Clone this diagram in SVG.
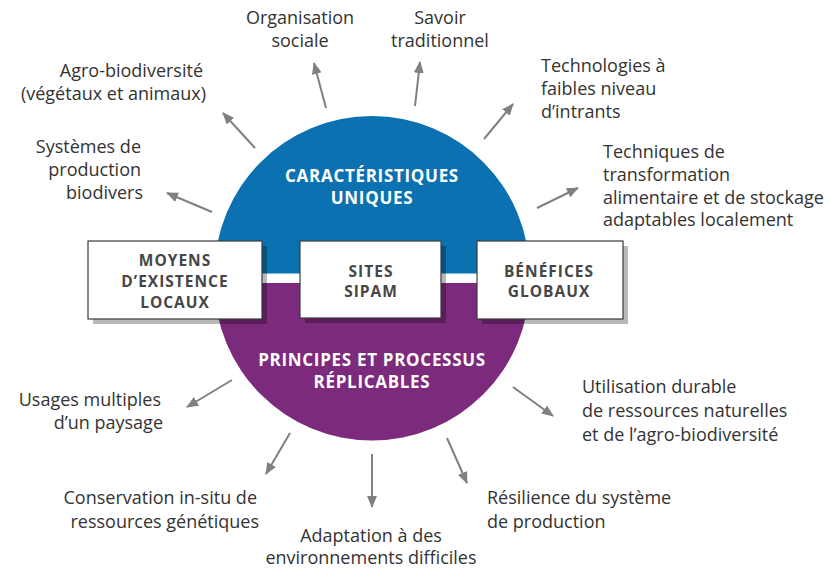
<svg xmlns="http://www.w3.org/2000/svg" width="830" height="570" viewBox="0 0 830 570">
  <defs>
    <marker id="arrowhead" viewBox="0 0 12 10" refX="11" refY="5" markerWidth="12" markerHeight="10" markerUnits="userSpaceOnUse" orient="auto">
      <path d="M0,0 L12,5 L0,10 Z" fill="#808083"/>
    </marker>
  </defs>
  <style>
    .lbl { font-family: "Open Sans", "Noto Sans", "Liberation Sans", sans-serif; font-size: 18px; fill: #333333; }
    .ttl { font-family: "Open Sans", "Noto Sans", "Liberation Sans", sans-serif; font-size: 17px; letter-spacing: 0.7px; font-weight: bold; fill: #ffffff; text-anchor: middle; }
    .boxtxt { font-family: "Open Sans", "Noto Sans", "Liberation Sans", sans-serif; font-size: 15.5px; letter-spacing: 1px; font-weight: bold; fill: #464646; text-anchor: middle; }
    .box { fill: #ffffff; stroke: #3a3a3a; stroke-width: 1.2; }
    .shadow { fill: #000000; fill-opacity: 0.28; }
    .arrow { stroke: #808083; stroke-width: 2; fill: none; marker-end: url(#arrowhead); }
    .r { text-anchor: end; }
    .m { text-anchor: middle; }
  </style>

  <!-- central disc split into two halves -->
  <g id="disc">
    <path d="M214.5,273.5 A157.5,157.5 0 0 1 529.5,273.5 Z" fill="#0b71b0"/>
    <path d="M214.5,283 A157.5,157.5 0 0 0 529.5,283 Z" fill="#7c2a7c"/>
  </g>

  <g id="title-unique">
    <text class="ttl" x="372" y="182">CARACTÉRISTIQUES</text>
    <text class="ttl" x="372" y="204">UNIQUES</text>
  </g>
  <g id="title-replicable">
    <text class="ttl" x="372" y="366">PRINCIPES ET PROCESSUS</text>
    <text class="ttl" x="372" y="388">RÉPLICABLES</text>
  </g>

  <!-- three boxes across the middle band -->
  <g id="box-moyens">
    <rect class="shadow" x="93" y="246" width="174" height="78"/>
    <rect class="box" x="88" y="241" width="174" height="78"/>
    <text class="boxtxt" x="175" y="266">MOYENS</text>
    <text class="boxtxt" x="175" y="287">D’EXISTENCE</text>
    <text class="boxtxt" x="175" y="308">LOCAUX</text>
  </g>
  <g id="box-sites">
    <rect class="shadow" x="305" y="246" width="141" height="77"/>
    <rect class="box" x="300" y="241" width="141" height="77"/>
    <text class="boxtxt" x="371" y="277">SITES</text>
    <text class="boxtxt" x="371" y="297">SIPAM</text>
  </g>
  <g id="box-benefices">
    <rect class="shadow" x="482" y="246" width="146" height="78"/>
    <rect class="box" x="477" y="241" width="146" height="78"/>
    <text class="boxtxt" x="549" y="277">BÉNÉFICES</text>
    <text class="boxtxt" x="549" y="297">GLOBAUX</text>
  </g>

  <!-- radiating connectors -->
  <g id="connectors">
    <line class="arrow" x1="255" y1="148" x2="223" y2="113"/>
    <line class="arrow" x1="326" y1="108" x2="314" y2="63"/>
    <line class="arrow" x1="415" y1="106" x2="420" y2="62"/>
    <line class="arrow" x1="484" y1="139" x2="513" y2="104"/>
    <line class="arrow" x1="537" y1="208" x2="578" y2="188"/>
    <line class="arrow" x1="212" y1="212" x2="167" y2="193"/>
    <line class="arrow" x1="232" y1="380" x2="187" y2="407"/>
    <line class="arrow" x1="290" y1="433" x2="266" y2="474"/>
    <line class="arrow" x1="372" y1="454" x2="372" y2="507"/>
    <line class="arrow" x1="447" y1="438" x2="467" y2="483"/>
    <line class="arrow" x1="513" y1="387" x2="553" y2="416"/>
  </g>

  <!-- outer labels -->
  <g id="lbl-organisation">
    <text class="lbl m" x="300" y="24">Organisation</text>
    <text class="lbl m" x="300" y="47">sociale</text>
  </g>
  <g id="lbl-savoir">
    <text class="lbl m" x="440" y="24">Savoir</text>
    <text class="lbl m" x="440" y="47">traditionnel</text>
  </g>
  <g id="lbl-technologies">
    <text class="lbl" x="541" y="72">Technologies à</text>
    <text class="lbl" x="541" y="95">faibles niveau</text>
    <text class="lbl" x="541" y="118">d’intrants</text>
  </g>
  <g id="lbl-techniques">
    <text class="lbl" x="603" y="158">Techniques de</text>
    <text class="lbl" x="603" y="181">transformation</text>
    <text class="lbl" x="603" y="204">alimentaire et de stockage</text>
    <text class="lbl" x="603" y="226">adaptables localement</text>
  </g>
  <g id="lbl-agro">
    <text class="lbl r" x="203" y="77">Agro-biodiversité</text>
    <text class="lbl r" x="206" y="100">(végétaux et animaux)</text>
  </g>
  <g id="lbl-systemes">
    <text class="lbl r" x="141" y="153">Systèmes de</text>
    <text class="lbl r" x="141" y="176">production</text>
    <text class="lbl r" x="143" y="199">biodivers</text>
  </g>
  <g id="lbl-usages">
    <text class="lbl r" x="161" y="406">Usages multiples</text>
    <text class="lbl r" x="163" y="429">d’un paysage</text>
  </g>
  <g id="lbl-conservation">
    <text class="lbl r" x="257" y="504">Conservation in-situ de</text>
    <text class="lbl r" x="259" y="528">ressources génétiques</text>
  </g>
  <g id="lbl-adaptation">
    <text class="lbl m" x="371" y="542">Adaptation à des</text>
    <text class="lbl m" x="371" y="564">environnements difficiles</text>
  </g>
  <g id="lbl-resilience">
    <text class="lbl" x="487" y="504">Résilience du système</text>
    <text class="lbl" x="487" y="528">de production</text>
  </g>
  <g id="lbl-utilisation">
    <text class="lbl" x="582" y="393">Utilisation durable</text>
    <text class="lbl" x="582" y="417">de ressources naturelles</text>
    <text class="lbl" x="582" y="441">et de l’agro-biodiversité</text>
  </g>
</svg>
